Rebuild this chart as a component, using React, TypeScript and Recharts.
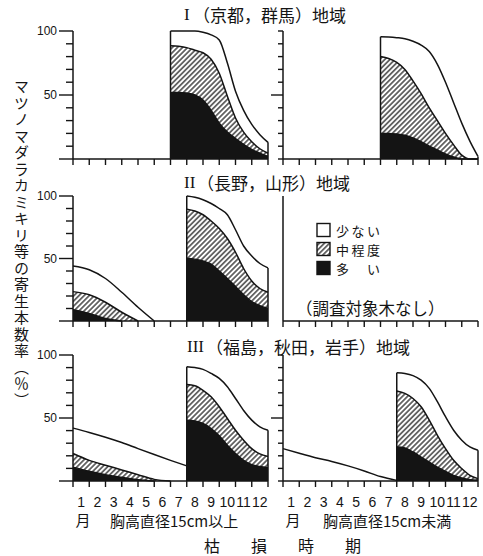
import React from 'react';
import { ComposedChart, Area, XAxis, YAxis, ReferenceLine } from 'recharts';

// x is measured in months: 0 = start of Jan, 12 = end of Dec
const earlyX = [0, 1, 2, 3, 4, 5, 6, 7];
const lateX8 = [7, 7.5, 8, 8.5, 9, 9.5, 10, 10.5, 11, 11.5, 12];
const lateX7 = [6, 6.5, ...lateX8];
const xTicks = [0, 0.5, 1, 1.5, 2, 2.5, 3, 3.5, 4, 4.5, 5, 5.5, 6, 6.5, 7, 7.5, 8, 8.5, 9, 9.5, 10, 10.5, 11, 11.5, 12];
const monthLabels = ['1', '2', '3', '4', '5', '6', '7', '8', '9', '10', '11', '12'];
const yTicks = [0, 10, 20, 30, 40, 50, 60, 70, 80, 90, 100];
const legendLabels = ['少ない', '中程度', '多　い'];

// cumulative boundaries (total = 少ない top, mid = 中程度 top, high = 多い top)
// Region I, DBH >= 15cm
const r1BigTotal = [100, 100, 100, 100, 99, 97, 93, 75, 53, 38, 27, 19, 13];
const r1BigMid = [88.5, 88, 87, 85, 83, 78, 67, 49, 32, 21, 13.5, 8, 4.5];
const r1BigHigh = [52, 52, 51.5, 50, 46, 38, 28, 21, 16, 11.5, 7.5, 4.5, 2];
// Region I, DBH < 15cm
const r1SmallTotal = [95.5, 95.3, 94.8, 94, 92, 89, 84, 74, 60, 44, 28, 14, 2];
const r1SmallMid = [80, 78.5, 75.5, 70, 61, 51, 40, 30, 20, 11, 3, 0, 0];
const r1SmallHigh = [20, 20, 19.5, 18.5, 16.5, 13.5, 10, 7, 4, 1.5, 0, 0, 0];

// Region II, DBH >= 15cm
const r2EarlyTotal = [44, 41, 34, 23, 11, 0, null, null];
const r2EarlyMid = [23.5, 21, 15, 7, 0, null, null, null];
const r2EarlyHigh = [9, 6, 2, 0, null, null, null, null];
const r2LateTotal = [100, 99, 97, 94, 90, 85, 73, 60, 52, 46, 42.5];
const r2LateMid = [89.5, 88, 85, 80, 74, 66, 55, 42, 32, 26, 23];
const r2LateHigh = [50, 49.5, 48, 45.5, 40, 34, 27.5, 21, 15.5, 12.3, 10];

// Region III, DBH >= 15cm
const r3BigEarlyTotal = [42, 38.5, 34.7, 30.5, 25.7, 21, 16.4, 12];
const r3BigEarlyMid = [21.8, 16.4, 12.5, 8.8, 5, 1.3, 0, null];
const r3BigEarlyHigh = [11, 7.7, 5, 2.9, 1, 0, null, null];
const r3BigLateTotal = [90.7, 90, 88.6, 85.4, 81.4, 74.8, 65.5, 56, 48.3, 43, 40.3];
const r3BigLateMid = [76.6, 75.6, 72, 66.8, 58.9, 49.6, 40.3, 32.4, 25.7, 21.5, 19.5];
const r3BigLateHigh = [48.3, 47.7, 45.6, 41.6, 35.8, 28.4, 21.8, 16.4, 13, 11.5, 10.5];
// Region III, DBH < 15cm
const r3SmallEarlyTotal = [25.7, 22, 18.5, 15.5, 12, 8, 3.5, 0.5];
const r3SmallLateTotal = [86, 85.4, 83.6, 80, 73.5, 62.9, 51, 40.3, 32.4, 27, 24.4];
const r3SmallLateMid = [71.4, 69.5, 65.5, 58.9, 48.3, 36.3, 25.7, 16.4, 9.8, 4.5, 1.9];
const r3SmallLateHigh = [27, 26.3, 23, 19, 15, 11, 7.7, 4.5, 2.4, 1, 0.5];

const INK = '#141414';
const CJK = '"Noto Sans CJK JP", "Noto Sans CJK SC", sans-serif';
const LATIN = '"Liberation Sans", Arial, sans-serif';
const SERIF = '"Liberation Serif", serif';
const PLOT_W = 195;

type Vals = (number | null)[];
interface Seg { xs: number[]; total: Vals; mid?: Vals; high?: Vals }

function buildRows(early?: Seg, late?: Seg) {
  const map = new Map<number, any>();
  const put = (p: string, seg?: Seg) => {
    if (!seg) return;
    seg.xs.forEach((x, i) => {
      const row = map.get(x) ?? { x };
      row[p + 'T'] = seg.total[i];
      if (seg.mid) row[p + 'M'] = seg.mid[i];
      if (seg.high) row[p + 'H'] = seg.high[i];
      map.set(x, row);
    });
  };
  put('e', early);
  put('l', late);
  if (map.size === 0) return [{ x: 0 }, { x: 12 }];
  return [...map.values()].sort((a, b) => a.x - b.x);
}

const YTick = (props: any) => {
  const { x, y, payload, side } = props;
  const v = payload.value;
  const major = side === 'left' ? v % 50 === 0 : v === 50;
  const len = side === 'left' ? (major ? 14 : 7) : (major ? 12 : 5);
  return (
    <g>
      <line x1={x - len} x2={x} y1={y} y2={y} stroke={INK} strokeWidth={1.4} />
      {side === 'left' && v > 0 && v % 50 === 0 && (
        <text x={x - len - 2} y={y} textAnchor="end" dominantBaseline="central" fontSize={12} fontFamily={LATIN} fill={INK}>
          {v}
        </text>
      )}
    </g>
  );
};

const XTick = (props: any) => {
  const { x, y, payload, labels } = props;
  const v = payload.value;
  if (Number.isInteger(v)) {
    return <line x1={x} x2={x} y1={y} y2={y + 6} stroke={INK} strokeWidth={1.4} />;
  }
  if (!labels) return <g />;
  return (
    <text x={x} y={y + 21} textAnchor="middle" dominantBaseline="central" fontSize={14} fontFamily={LATIN} fill={INK}>
      {monthLabels[Math.floor(v)]}
    </text>
  );
};

interface PanelProps {
  id: string;
  plotX: number;
  plotY: number;
  plotH: number;
  side: 'left' | 'right';
  bottom?: boolean;
  early?: Seg;
  late?: Seg;
}

const Panel: React.FC<PanelProps> = ({ id, plotX, plotY, plotH, side, bottom, early, late }) => {
  const yW = side === 'left' ? 60 : 15;
  const xH = bottom ? 32 : 10;
  const mTop = 10;
  const mRight = 5;
  const rows = buildRows(early, late);
  const hatch = `hatch-${id}`;

  const areas = (p: string, seg?: Seg) => {
    if (!seg) return null;
    const out = [
      <Area key={p + 'T'} type="monotone" dataKey={p + 'T'} stroke={INK} strokeWidth={1.5} fill="#fff" fillOpacity={1} isAnimationActive={false} dot={false} activeDot={false} />,
    ];
    if (seg.mid)
      out.push(<Area key={p + 'M'} type="monotone" dataKey={p + 'M'} stroke={INK} strokeWidth={1.5} fill={`url(#${hatch})`} fillOpacity={1} isAnimationActive={false} dot={false} activeDot={false} />);
    if (seg.high)
      out.push(<Area key={p + 'H'} type="monotone" dataKey={p + 'H'} stroke={INK} strokeWidth={1.5} fill={INK} fillOpacity={1} isAnimationActive={false} dot={false} activeDot={false} />);
    return out;
  };

  // vertical edges of the Jul/Aug-Dec block
  const edges = late
    ? [
        { x: late.xs[0], y: late.total[0] as number },
        { x: late.xs[late.xs.length - 1], y: late.total[late.total.length - 1] as number },
      ]
    : [];

  return (
    <div style={{ position: 'absolute', left: plotX - yW, top: plotY - mTop }}>
      <ComposedChart width={yW + PLOT_W + mRight} height={mTop + plotH + xH} data={rows} margin={{ top: mTop, right: mRight, bottom: 0, left: 0 }}>
        <defs>
          <pattern id={hatch} patternUnits="userSpaceOnUse" width={3.6} height={3.6} patternTransform="rotate(45)">
            <rect width={3.6} height={3.6} fill="#fff" />
            <line x1={1.8} y1={0} x2={1.8} y2={3.6} stroke={INK} strokeWidth={1.2} />
          </pattern>
        </defs>
        <XAxis
          dataKey="x"
          type="number"
          domain={[0, 12]}
          ticks={xTicks}
          interval={0}
          height={xH}
          tickSize={0}
          tickMargin={0}
          tickLine={false}
          axisLine={{ stroke: INK, strokeWidth: 1.5 }}
          tick={(p: any) => <XTick {...p} labels={bottom} />}
        />
        <YAxis
          type="number"
          domain={[0, 100]}
          ticks={yTicks}
          interval={0}
          width={yW}
          tickSize={0}
          tickMargin={0}
          tickLine={false}
          axisLine={{ stroke: INK, strokeWidth: 1.5 }}
          tick={(p: any) => <YTick {...p} side={side} />}
        />
        {areas('e', early)}
        {areas('l', late)}
        {edges.map((e, i) => (
          <ReferenceLine key={i} segment={[{ x: e.x, y: 0 }, { x: e.x, y: e.y }]} stroke={INK} strokeWidth={1.5} />
        ))}
      </ComposedChart>
    </div>
  );
};

const legendFills = ['#fff', 'url(#hatch-legend)', INK];

export default function App() {
  return (
    <div style={{ position: 'absolute', left: 0, top: 0, width: 483, height: 556, background: '#fff', overflow: 'hidden' }}>
      <Panel id="1a" plotX={73} plotY={31} plotH={128} side="left"
        late={{ xs: lateX7, total: r1BigTotal, mid: r1BigMid, high: r1BigHigh }} />
      <Panel id="1b" plotX={283} plotY={31} plotH={128} side="right"
        late={{ xs: lateX7, total: r1SmallTotal, mid: r1SmallMid, high: r1SmallHigh }} />
      <Panel id="2a" plotX={73} plotY={196} plotH={125} side="left"
        early={{ xs: earlyX, total: r2EarlyTotal, mid: r2EarlyMid, high: r2EarlyHigh }}
        late={{ xs: lateX8, total: r2LateTotal, mid: r2LateMid, high: r2LateHigh }} />
      <Panel id="2b" plotX={283} plotY={196} plotH={125} side="right" />
      <Panel id="3a" plotX={73} plotY={355} plotH={126} side="left" bottom
        early={{ xs: earlyX, total: r3BigEarlyTotal, mid: r3BigEarlyMid, high: r3BigEarlyHigh }}
        late={{ xs: lateX8, total: r3BigLateTotal, mid: r3BigLateMid, high: r3BigLateHigh }} />
      <Panel id="3b" plotX={283} plotY={355} plotH={126} side="right" bottom
        early={{ xs: earlyX, total: r3SmallEarlyTotal }}
        late={{ xs: lateX8, total: r3SmallLateTotal, mid: r3SmallLateMid, high: r3SmallLateHigh }} />

      <div
        style={{
          position: 'absolute', left: 12, top: 79, writingMode: 'vertical-rl', fontFamily: CJK,
          fontSize: 15, letterSpacing: 1.5, lineHeight: '18px', color: INK,
        }}
      >
        マツノマダラカミキリ等の寄生本数率（％）
      </div>

      <svg width={483} height={556} style={{ position: 'absolute', left: 0, top: 0, pointerEvents: 'none' }}>
        <defs>
          <pattern id="hatch-legend" patternUnits="userSpaceOnUse" width={3.6} height={3.6} patternTransform="rotate(45)">
            <rect width={3.6} height={3.6} fill="#fff" />
            <line x1={1.8} y1={0} x2={1.8} y2={3.6} stroke={INK} strokeWidth={1.2} />
          </pattern>
        </defs>
        <g fill={INK} fontFamily={CJK} fontSize={17} dominantBaseline="central">
          <text x={184} y={14} fontFamily={SERIF}>I</text>
          <text x={193} y={14}>（京都，群馬）地域</text>
          <text x={184} y={182} fontFamily={SERIF}>II</text>
          <text x={197} y={182}>（長野，山形）地域</text>
          <text x={187} y={346} fontFamily={SERIF}>III</text>
          <text x={206} y={346}>（福島，秋田，岩手）地域</text>
        </g>

        {/* legend */}
        {legendFills.map((f, i) => (
          <rect key={i} x={317} y={230 + i * 19 - 6.5} width={13} height={13} fill={f} stroke={INK} strokeWidth={1.4} />
        ))}
        {legendLabels.map((l, i) => (
          <text key={l} x={336} y={230 + i * 19} dominantBaseline="central" fontSize={13} letterSpacing={2.5} fontFamily={CJK} fill={INK}>
            {l}
          </text>
        ))}
        <text x={296} y={308} dominantBaseline="central" fontSize={16.5} fontFamily={CJK} fill={INK}>
          （調査対象木なし）
        </text>

        <g fill={INK} fontFamily={CJK} fontSize={15} dominantBaseline="central">
          <text x={83} y={519} textAnchor="middle">月</text>
          <text x={110} y={520}>胸高直径15cm以上</text>
          <text x={293} y={519} textAnchor="middle">月</text>
          <text x={323} y={520}>胸高直径15cm未満</text>
        </g>
        <text x={204} y={545} dominantBaseline="central" fontSize={16} letterSpacing={31} fontFamily={CJK} fill={INK}>
          枯損時期
        </text>
      </svg>
    </div>
  );
}
